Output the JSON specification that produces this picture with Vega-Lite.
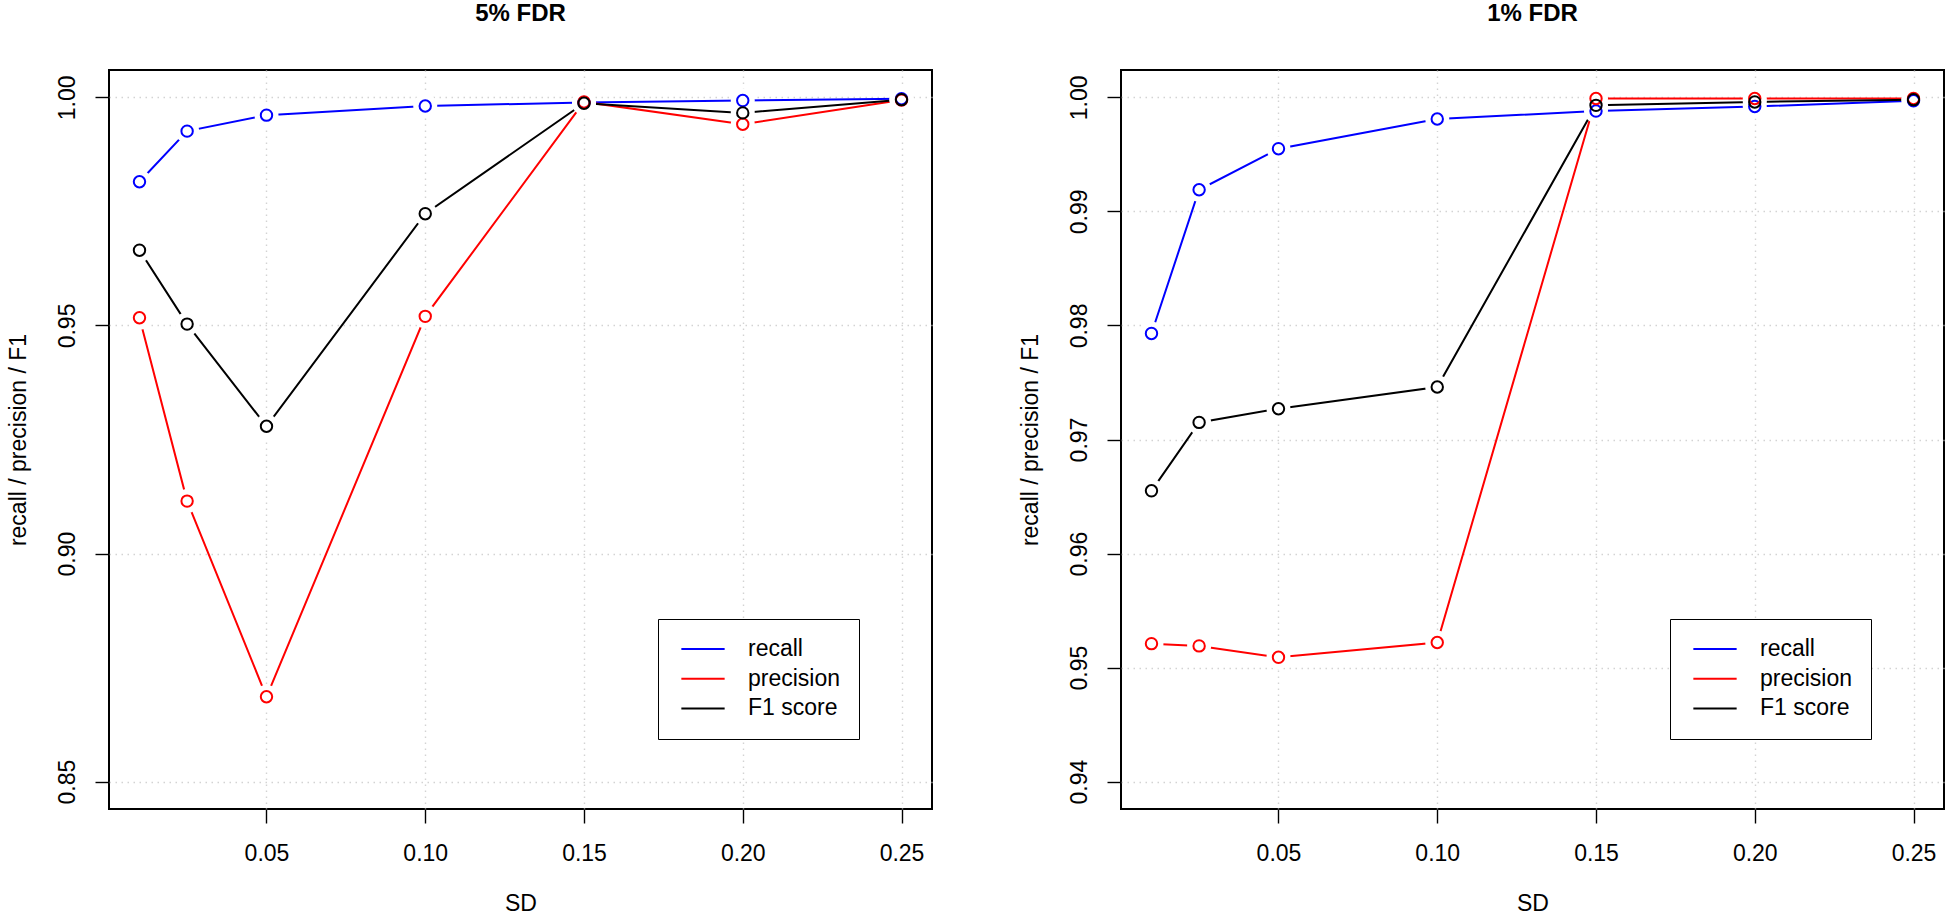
{
  "$schema": "https://vega.github.io/schema/vega-lite/v6.json",
  "background": "white",
  "padding": {"left": 6, "top": 0, "right": 0, "bottom": 0},
  "spacing": 189,
  "bounds": "flush",
  "resolve": {"scale": {"color": "independent"}, "legend": {"color": "independent"}},
  "config": {
    "font": "Liberation Sans",
    "view": {"stroke": "black", "strokeWidth": 2},
    "axis": {
      "domain": false, "tickColor": "black", "tickWidth": 1.4, "tickSize": 14,
      "labelFont": "Liberation Sans", "labelFontSize": 23, "labelColor": "black",
      "titleFont": "Liberation Sans", "titleFontSize": 23, "titleFontWeight": "normal", "titleColor": "black",
      "grid": true, "gridColor": "#d3d3d3", "gridDash": [1.5, 4.5], "gridWidth": 1.4,
      "labelFlush": false, "labelOverlap": false
    },
    "axisX": {"labelAngle": 0, "labelAlign": "center", "labelBaseline": "alphabetic", "labelPadding": 37, "titleBaseline": "alphabetic", "titleAlign": "center", "titleX": 411.5, "titleY": 101},
    "axisY": {"labelAngle": -90, "labelAlign": "center", "labelBaseline": "middle", "labelPadding": 28, "titleAngle": -90, "titleAlign": "center", "titleBaseline": "middle", "titleX": -91, "titleY": 369.5},
    "title": {"font": "Liberation Sans", "fontSize": 24, "fontWeight": "bold", "color": "black", "anchor": "middle", "offset": 44.5, "baseline": "alphabetic"},
    "legend": {
      "title": null, "orient": "none", "legendX": 549, "legendY": 549,
      "symbolType": "stroke", "symbolSize": 1875, "symbolStrokeWidth": 2,
      "labelFont": "Liberation Sans", "labelFontSize": 23, "labelColor": "black",
      "labelOffset": 22, "symbolOffset": 3.5, "clipHeight": 23, "rowPadding": 5.7,
      "padding": 18.5, "strokeColor": "black", "fillColor": "white", "labelLimit": 0
    }
  },
  "hconcat": [
    {
      "width": 823, "height": 739,
      "title": "5% FDR",
      "data": {"values": [
        {"sd": 0.01, "metric": "recall", "value": 0.9815},
        {"sd": 0.025, "metric": "recall", "value": 0.9926},
        {"sd": 0.05, "metric": "recall", "value": 0.9961},
        {"sd": 0.10, "metric": "recall", "value": 0.9981},
        {"sd": 0.15, "metric": "recall", "value": 0.9989},
        {"sd": 0.20, "metric": "recall", "value": 0.9993},
        {"sd": 0.25, "metric": "recall", "value": 0.9997},
        {"sd": 0.01, "metric": "precision", "value": 0.9517},
        {"sd": 0.025, "metric": "precision", "value": 0.9115},
        {"sd": 0.05, "metric": "precision", "value": 0.8686},
        {"sd": 0.10, "metric": "precision", "value": 0.9520},
        {"sd": 0.15, "metric": "precision", "value": 0.9990},
        {"sd": 0.20, "metric": "precision", "value": 0.9941},
        {"sd": 0.25, "metric": "precision", "value": 0.9994},
        {"sd": 0.01, "metric": "F1 score", "value": 0.9665},
        {"sd": 0.025, "metric": "F1 score", "value": 0.9503},
        {"sd": 0.05, "metric": "F1 score", "value": 0.9279},
        {"sd": 0.10, "metric": "F1 score", "value": 0.9745},
        {"sd": 0.15, "metric": "F1 score", "value": 0.9987},
        {"sd": 0.20, "metric": "F1 score", "value": 0.9966},
        {"sd": 0.25, "metric": "F1 score", "value": 0.9995}
      ]},
      "encoding": {
        "x": {"field": "sd", "type": "quantitative", "title": "SD",
              "scale": {"domain": [0.0004, 0.2596], "nice": false, "zero": false},
              "axis": {"values": [0.05, 0.10, 0.15, 0.20, 0.25], "format": ".2f"}},
        "y": {"field": "value", "type": "quantitative", "title": "recall / precision / F1",
              "scale": {"domain": [0.844, 1.006], "nice": false, "zero": false},
              "axis": {"values": [0.85, 0.90, 0.95, 1.00], "format": ".2f"}}
      },
      "layer": [
        {"mark": {"type": "line", "strokeWidth": 2},
         "encoding": {"color": {"field": "metric", "type": "nominal",
           "scale": {"domain": ["recall", "precision", "F1 score"], "range": ["#0000ff", "#ff0000", "#000000"]}}}},
        {"mark": {"type": "point", "shape": "circle", "filled": true, "color": "white", "size": 576, "opacity": 1, "strokeWidth": 0},
         "encoding": {"detail": {"field": "metric", "type": "nominal"}}},
        {"mark": {"type": "point", "shape": "circle", "filled": false, "size": 130, "strokeWidth": 2, "opacity": 1},
         "encoding": {"color": {"field": "metric", "type": "nominal",
           "scale": {"domain": ["recall", "precision", "F1 score"], "range": ["#0000ff", "#ff0000", "#000000"]}}}}
      ]
    },
    {
      "width": 823, "height": 739,
      "title": "1% FDR",
      "data": {"values": [
        {"sd": 0.01, "metric": "recall", "value": 0.9793},
        {"sd": 0.025, "metric": "recall", "value": 0.9919},
        {"sd": 0.05, "metric": "recall", "value": 0.9955},
        {"sd": 0.10, "metric": "recall", "value": 0.9981},
        {"sd": 0.15, "metric": "recall", "value": 0.9988},
        {"sd": 0.20, "metric": "recall", "value": 0.9992},
        {"sd": 0.25, "metric": "recall", "value": 0.9997},
        {"sd": 0.01, "metric": "precision", "value": 0.9521},
        {"sd": 0.025, "metric": "precision", "value": 0.9519},
        {"sd": 0.05, "metric": "precision", "value": 0.9509},
        {"sd": 0.10, "metric": "precision", "value": 0.9522},
        {"sd": 0.15, "metric": "precision", "value": 0.9999},
        {"sd": 0.20, "metric": "precision", "value": 0.9999},
        {"sd": 0.25, "metric": "precision", "value": 0.9999},
        {"sd": 0.01, "metric": "F1 score", "value": 0.9655},
        {"sd": 0.025, "metric": "F1 score", "value": 0.9715},
        {"sd": 0.05, "metric": "F1 score", "value": 0.9727},
        {"sd": 0.10, "metric": "F1 score", "value": 0.9746},
        {"sd": 0.15, "metric": "F1 score", "value": 0.9993},
        {"sd": 0.20, "metric": "F1 score", "value": 0.9996},
        {"sd": 0.25, "metric": "F1 score", "value": 0.9998}
      ]},
      "encoding": {
        "x": {"field": "sd", "type": "quantitative", "title": "SD",
              "scale": {"domain": [0.0004, 0.2596], "nice": false, "zero": false},
              "axis": {"values": [0.05, 0.10, 0.15, 0.20, 0.25], "format": ".2f"}},
        "y": {"field": "value", "type": "quantitative", "title": "recall / precision / F1",
              "scale": {"domain": [0.9376, 1.0024], "nice": false, "zero": false},
              "axis": {"values": [0.94, 0.95, 0.96, 0.97, 0.98, 0.99, 1.00], "format": ".2f"}}
      },
      "layer": [
        {"mark": {"type": "line", "strokeWidth": 2},
         "encoding": {"color": {"field": "metric", "type": "nominal",
           "scale": {"domain": ["recall", "precision", "F1 score"], "range": ["#0000ff", "#ff0000", "#000000"]}}}},
        {"mark": {"type": "point", "shape": "circle", "filled": true, "color": "white", "size": 576, "opacity": 1, "strokeWidth": 0},
         "encoding": {"detail": {"field": "metric", "type": "nominal"}}},
        {"mark": {"type": "point", "shape": "circle", "filled": false, "size": 130, "strokeWidth": 2, "opacity": 1},
         "encoding": {"color": {"field": "metric", "type": "nominal",
           "scale": {"domain": ["recall", "precision", "F1 score"], "range": ["#0000ff", "#ff0000", "#000000"]}}}}
      ]
    }
  ]
}
